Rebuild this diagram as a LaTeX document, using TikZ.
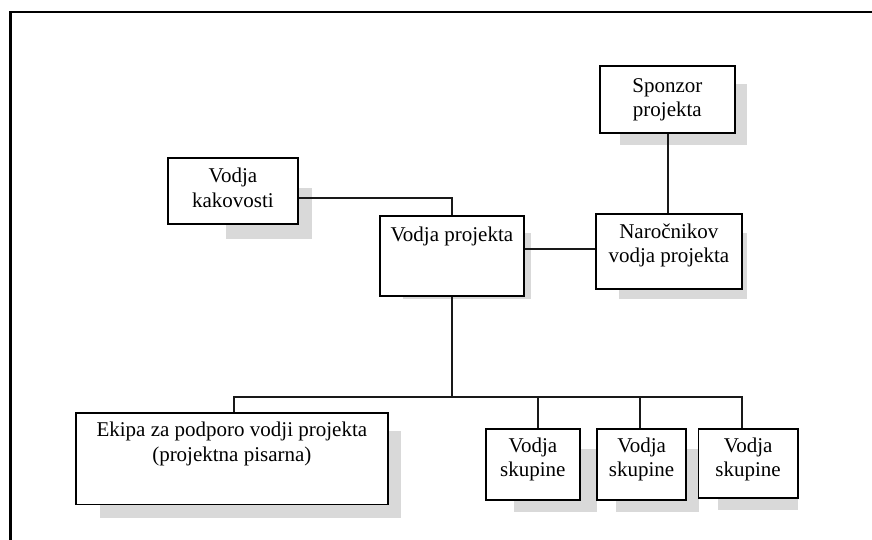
\documentclass[tikz,border=0pt]{standalone}
\usepackage{fontspec}
\setmainfont{Liberation Serif}
\begin{document}
\begin{tikzpicture}[x=1pt,y=-1pt,
  boxst/.style={draw=black,line width=1.7pt,fill=white,rectangle,inner sep=0pt,anchor=north west},
  shad/.style={fill=black!15},
  txt/.style={inner sep=0pt,anchor=base,align=center,font=\fontsize{21}{24.5}\selectfont},
  conn/.style={draw=black!90,line width=1.9pt}]
\useasboundingbox (0,0) rectangle (872,540);
% frame
\draw[line width=2.2pt] (10.5,540) -- (10.5,12) -- (872,12);
% shadows
\fill[shad] (620,84) rectangle (747,145);
\fill[shad] (226,188) rectangle (312,239);
\fill[shad] (403,233) rectangle (531,299);
\fill[shad] (619,233) rectangle (747,299);
\fill[shad] (100,431) rectangle (401,518);
\fill[shad] (514,449) rectangle (597,512);
\fill[shad] (616,449) rectangle (699,512);
\fill[shad] (718,449) rectangle (798,510);
% bus coordinates
\coordinate (busL) at (234.3,397.3);
\coordinate (busR) at (742.3,397.3);
\coordinate (d1) at (538.3,397.3);
\coordinate (d2) at (640.3,397.3);
% box nodes (outlines drawn after the connectors)
\node[boxst,draw=none,fill=none,minimum width=133pt,minimum height=65pt] (sp) at (600,66) {};
\node[boxst,draw=none,fill=none,minimum width=128pt,minimum height=64pt] (kak) at (168,158) {};
\node[boxst,draw=none,fill=none,minimum width=142pt,minimum height=78pt] (vp) at (380,216) {};
\node[boxst,draw=none,fill=none,minimum width=144pt,minimum height=73pt] (nar) at (596,214) {};
\node[boxst,draw=none,fill=none,minimum width=310pt,minimum height=90pt] (ek) at (76,412.7) {};
\node[boxst,draw=none,fill=none,minimum width=92pt,minimum height=69pt] (s1) at (486,429) {};
\node[boxst,draw=none,fill=none,minimum width=87.5pt,minimum height=69pt] (s2) at (597,429) {};
\node[boxst,draw=none,fill=none,minimum width=97.5pt,minimum height=67pt] (s3) at (698.5,429) {};
\draw[conn] ([xshift=0.3pt]sp.south) -- ([xshift=0.3pt]sp.south |- nar.north);
\draw[conn] ([yshift=-6.7pt]kak.east) -| (vp.north);
\draw[conn] ([yshift=6.5pt]vp.east) -- ([yshift=6.5pt]vp.east -| nar.west);
\draw[conn] (vp.south) -- (vp.south |- busL);
\draw[conn] (busL |- ek.north) -- (busL) -- (busR) -- (busR |- s3.north);
\draw[conn] (d1) -- (d1 |- s1.north);
\draw[conn] (d2) -- (d2 |- s2.north);
% boxes
\draw[boxst] (sp.north west) rectangle (sp.south east);
\draw[boxst] (kak.north west) rectangle (kak.south east);
\draw[boxst] (vp.north west) rectangle (vp.south east);
\draw[boxst] (nar.north west) rectangle (nar.south east);
\draw[boxst] (ek.north west) rectangle (ek.south east);
\draw[boxst] (s1.north west) rectangle (s1.south east);
\draw[boxst] (s2.north west) rectangle (s2.south east);
\draw[boxst] (s3.north west) rectangle (s3.south east);
% texts (base = baseline of last line)
\node[txt] (tsp) at (sp.center |- 0,116.7) {Sponzor\\projekta};
\node[txt] (tkak) at (kak.center |- 0,207.2) {Vodja\\kakovosti};
\node[txt] (tvp) at (vp.center |- 0,241.7) {Vodja projekta};
\node[txt] (tnar) at (nar.center |- 0,262.5) {Naročnikov\\vodja projekta};
\node[txt] (tek) at (ek.center |- 0,461) {Ekipa za podporo vodji projekta\\(projektna pisarna)};
\node[txt] (ts1) at (s1.center |- 0,476.5) {Vodja\\skupine};
\node[txt] (ts2) at (s2.center |- 0,476.5) {Vodja\\skupine};
\node[txt] (ts3) at (s3.center |- 0,476.5) {Vodja\\skupine};
\end{tikzpicture}
\end{document}
